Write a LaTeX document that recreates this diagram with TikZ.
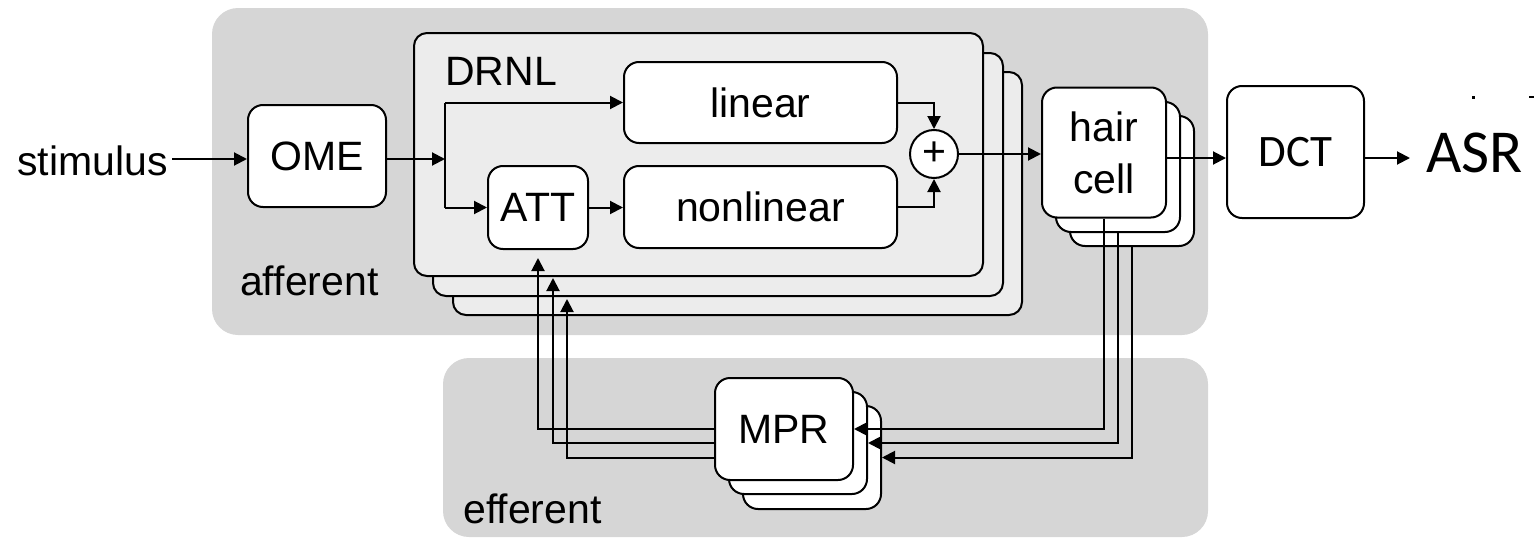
\documentclass[tikz,border=0pt]{standalone}
\usepackage{fontspec}
\setmainfont{Liberation Sans}[Ligatures=NoCommon]
\newfontfamily\calfont{Carlito}
\usetikzlibrary{arrows.meta}
\definecolor{regiongray}{HTML}{D6D6D6}
\definecolor{drnlgray}{HTML}{ECECEC}
\newcommand\mysize{\fontsize{41}{52}\selectfont}
\tikzset{
 region/.style={fill=regiongray, rounded corners=26pt, inner sep=0pt, draw=none},
 blk/.style={draw, line width=2pt, fill=white, rounded corners=15pt, inner sep=0pt, font=\mysize, align=center},
 drnlbox/.style={draw, line width=2pt, fill=drnlgray, rounded corners=13pt, inner sep=0pt},
 lbl/.style={font=\mysize, inner sep=0pt},
 conn/.style={line width=2pt, -{Triangle[length=13pt,width=13pt]}},
 wire/.style={line width=2pt},
}
\begin{document}
\begin{tikzpicture}[x=1pt,y=-1pt]
\useasboundingbox (0,0) rectangle (1535,538);
% regions
\node[region, minimum width=996pt, minimum height=327pt] (aff) at (710,171.5) {};
\node[region, minimum width=765pt, minimum height=179pt] (eff) at (825.5,447.5) {};
\node[lbl, anchor=base west] (afflbl) at (240,295) {afferent};
\node[lbl, anchor=base west] (efflbl) at (463,523) {efferent};
% input
\node[lbl, anchor=base east, inner xsep=4pt] (stim) at (172,175) {stimulus};
\node[blk, minimum width=138pt, minimum height=102pt] (ome) at (317,156) {OME};
% DRNL stack
\node[drnlbox, minimum width=569pt, minimum height=243pt] (drnl3) at (737.5,193.5) {};
\node[drnlbox, minimum width=570pt, minimum height=243pt] (drnl2) at (718,174.5) {};
\node[drnlbox, minimum width=569pt, minimum height=243pt] (drnl1) at (698.5,154.5) {};
\node[lbl, anchor=base west] (drnllbl) at (445,85) {DRNL};
\node[blk, minimum width=273pt, minimum height=81pt] (lin) at (760.5,102.5) {linear};
\node[blk, minimum width=273pt, minimum height=82pt] (nonlin) at (760.5,207) {nonlinear};
\node[blk, minimum width=100pt, minimum height=83pt] (att) at (538,207.5) {ATT};
\node[draw, line width=2pt, fill=white, circle, minimum size=48pt, inner sep=0pt, font=\mysize] (plus) at (934,154) {+};
% hair cell stack
\node[blk, minimum width=124pt, minimum height=130pt] (hc3) at (1132,181) {};
\node[blk, minimum width=124pt, minimum height=130pt] (hc2) at (1118,167) {};
\node[blk, minimum width=124pt, minimum height=130pt] (hc1) at (1104,152.5) {hair\\cell};
% DCT / ASR
\node[blk, minimum width=137pt, minimum height=132pt, font=\calfont\fontsize{45}{54}\selectfont] (dct) at (1295.5,152) {DCT};
\node[anchor=base west, inner ysep=0pt, inner xsep=16pt, font=\calfont\fontsize{61}{70}\selectfont] (asr) at (1410,172) {ASR};
\fill (1472,96) rectangle (1475,99);
\fill (1529,96) rectangle (1534,97.5);
% MPR stack
\node[blk, minimum width=138pt, minimum height=103pt] (mpr3) at (812,457.5) {};
\node[blk, minimum width=138pt, minimum height=102pt] (mpr2) at (798,443) {};
\node[blk, minimum width=138pt, minimum height=102pt] (mpr1) at (784,429) {MPR};
% connectors
\coordinate (j) at (445,159);
\coordinate (sig) at (1166,158);
\coordinate (att2) at (553,278);
\coordinate (att3) at (567,299);
\draw[conn] (stim.east |- j) -- (ome.west |- j);
\draw[conn] (ome.east |- j) -- (j);
\draw[wire] (j |- lin.west) -- (j |- att.west);
\draw[conn] (j |- lin.west) -- (lin.west);
\draw[conn] (j |- att.west) -- (att.west);
\draw[conn] (att.east) -- (nonlin.west |- att.east);
\draw[conn] (lin.east) -| (plus.north);
\draw[conn] (nonlin.east) -| (plus.south);
\draw[conn] (plus.east) -- (hc1.west |- plus.east);
\draw[conn] (hc1.east |- sig) -- (dct.west |- sig);
\draw[conn] (dct.east |- sig) -- (asr.west |- sig);
\draw[conn] (hc1.south) |- (mpr1.east);
\draw[conn] (hc2.south) |- (mpr2.east);
\draw[conn] (hc3.south) |- (mpr3.east);
\draw[conn, shorten >=8pt] (mpr1.west) -| (att.south);
\draw[conn] (mpr1.west |- mpr2.east) -| (att2);
\draw[conn] (mpr1.west |- mpr3.east) -| (att3);
\end{tikzpicture}
\end{document}
